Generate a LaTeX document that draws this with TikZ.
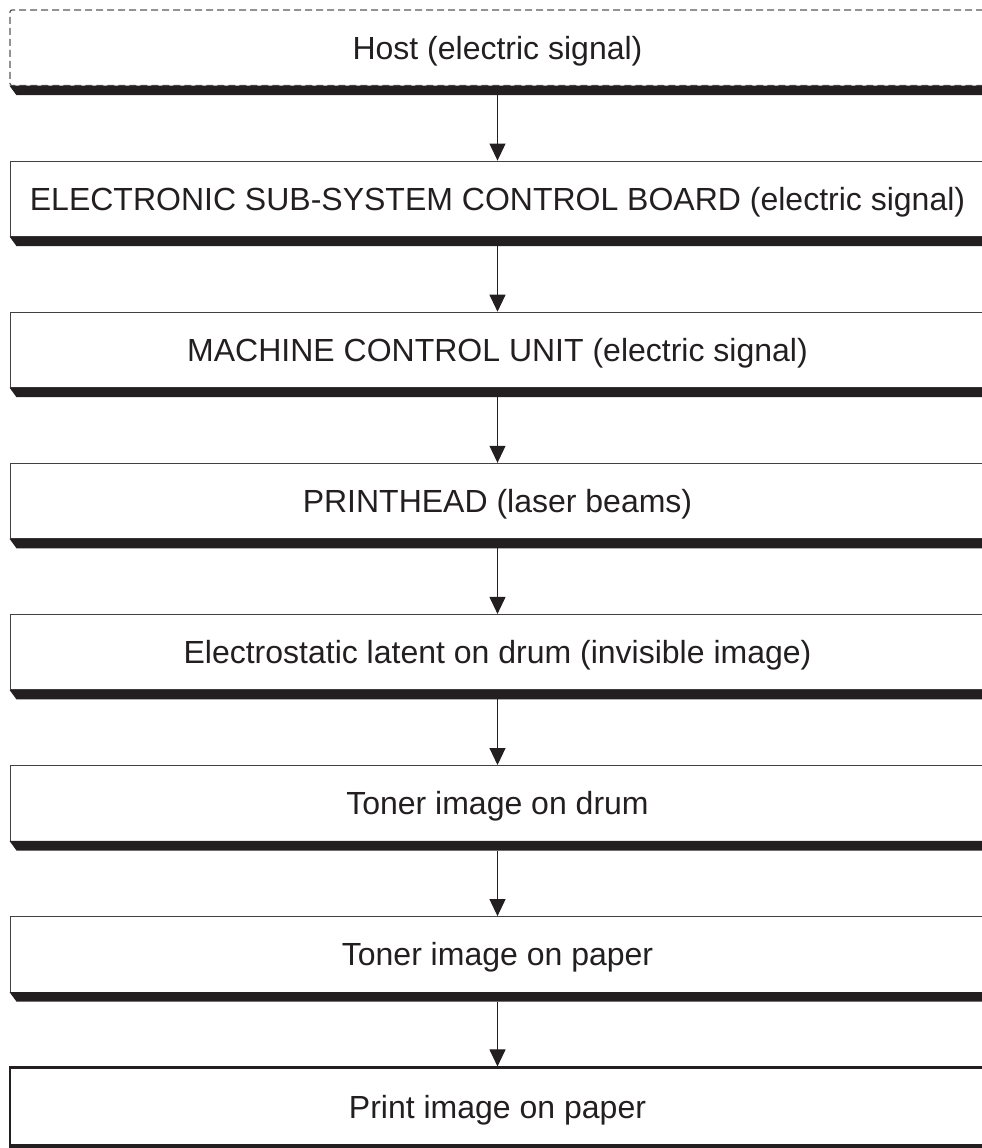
\documentclass[tikz,border=0pt]{standalone}
\usepackage{fontspec}
\setmainfont{Liberation Sans}
\usetikzlibrary{arrows.meta,calc}
\definecolor{ink}{HTML}{231F20}
\begin{document}
\begin{tikzpicture}[x=1pt,y=-1pt,
  stage/.style={draw=ink!85, line width=1pt, minimum width=975pt, minimum height=75.5pt,
    inner sep=0pt, text height=22.9pt, text depth=0pt,
    font=\fontsize{32}{38}\selectfont, text=ink},
  hostbox/.style={stage, draw=ink!75, line width=1.2pt, dash pattern=on 7pt off 4pt, rounded corners=2pt},
  finalbox/.style={stage, draw=ink, line width=2.5pt, minimum height=78pt},
  shade/.style={fill=ink},
  flow/.style={draw=ink, line width=1pt, -{Triangle[length=17pt,width=16pt]}}]
\useasboundingbox (0,0) rectangle (982,1148);
\clip (0,0) rectangle (982,1148);

\node[hostbox] (b0) at (497.5,47.75) {Host (electric signal)};
\node[stage] (b1) at (497.5,198.85) {ELECTRONIC SUB-SYSTEM CONTROL BOARD (electric signal)};
\node[stage] (b2) at (497.5,349.95) {MACHINE CONTROL UNIT (electric signal)};
\node[stage] (b3) at (497.5,501.05) {PRINTHEAD (laser beams)};
\node[stage] (b4) at (497.5,652.15) {Electrostatic latent on drum (invisible image)};
\node[stage] (b5) at (497.5,803.25) {Toner image on drum};
\node[stage] (b6) at (497.5,954.35) {Toner image on paper};
\node[finalbox] (b7) at (497.5,1106.7) {Print image on paper};

\foreach \b in {b0,b1,b2,b3,b4,b5,b6}{
  \fill[shade] ($(\b.south west)+(0,-0.6)$) -- ($(\b.south east)+(0,-0.6)$) -- ++(0,9.6) -- ($(\b.south west)+(7,9)$) -- cycle;
}
\fill[shade] ($(b7.south west)+(0,-2)$) rectangle ($(b7.south east)+(0,1)$);

\draw[flow] ($(b0.south)+(0,9)$) -- (b1.north);
\draw[flow] ($(b1.south)+(0,9)$) -- (b2.north);
\draw[flow] ($(b2.south)+(0,9)$) -- (b3.north);
\draw[flow] ($(b3.south)+(0,9)$) -- (b4.north);
\draw[flow] ($(b4.south)+(0,9)$) -- (b5.north);
\draw[flow] ($(b5.south)+(0,9)$) -- (b6.north);
\draw[flow] ($(b6.south)+(0,9)$) -- (b7.north);
\end{tikzpicture}
\end{document}
